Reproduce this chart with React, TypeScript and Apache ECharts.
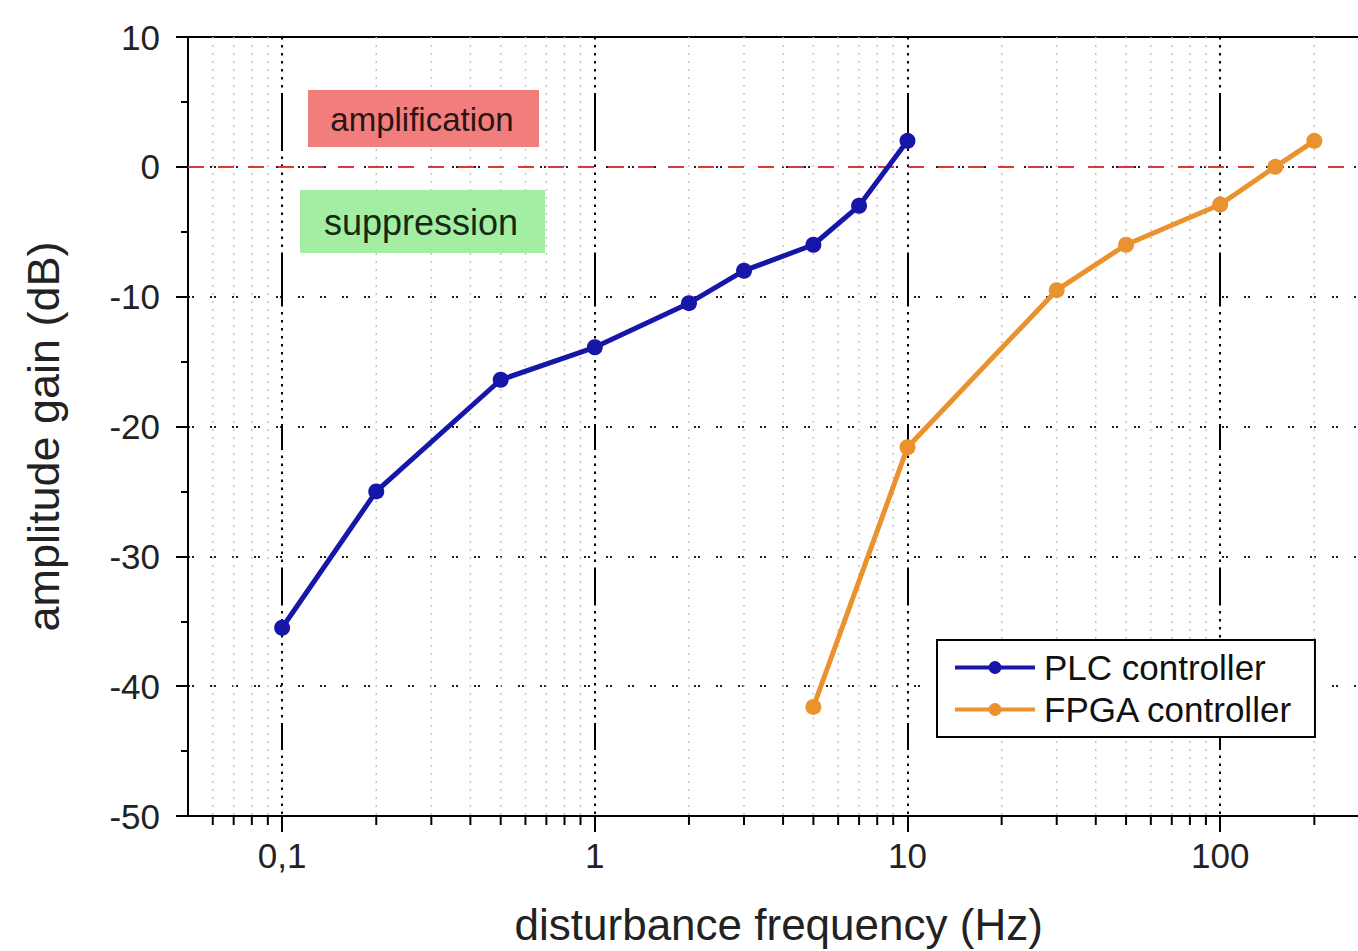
import React, { useEffect, useRef } from "react";
import * as echarts from "echarts";

// ---- data ----
const plcFreq = [0.1, 0.2, 0.5, 1, 2, 3, 5, 7, 10];
const plcGain = [-35.5, -25.0, -16.4, -13.9, -10.5, -8.0, -6.0, -3.0, 2.0];
const fpgaFreq = [5, 10, 30, 50, 100, 150, 200];
const fpgaGain = [-41.6, -21.6, -9.5, -6.0, -2.9, 0.0, 2.0];
const minorFreqs = [
  0.06, 0.07, 0.08, 0.09,
  0.2, 0.3, 0.4, 0.5, 0.6, 0.7, 0.8, 0.9,
  2, 3, 4, 5, 6, 7, 8, 9,
  20, 30, 40, 50, 60, 70, 80, 90,
  200, 300,
];
const seriesNames = ["PLC controller", "FPGA controller"];
const regionLabels = ["amplification", "suppression"];
const xMin = 0.05;
const xMax = 300;
const yMin = -50;
const yMax = 10;
const yStep = 10;
const refLevel = 0;

const FONT = "'Liberation Sans', Arial, sans-serif";

function buildDash(segs: [string, number][]): number[] {
  const out: number[] = [];
  for (const [kind, len] of segs) {
    if (kind === "dot") {
      const n = Math.max(1, Math.round(len / 8));
      for (let i = 0; i < n; i++) out.push(2.5, 5.5);
    } else {
      out.push(len, 5.5);
    }
  }
  return out;
}

const vMajorDash = buildDash([
  ["dot", 55], ["solid", 58], ["dot", 93], ["solid", 54], ["dot", 110],
  ["solid", 26], ["dot", 112], ["solid", 38], ["dot", 110], ["solid", 27], ["dot", 100],
]);

export default function App() {
  const ref = useRef<HTMLDivElement>(null);
  useEffect(() => {
    if (!ref.current) return;
    const chart = echarts.init(ref.current, null, { renderer: "svg" });
    const isDecade = (v: number) => Math.abs(Math.log10(v) - Math.round(Math.log10(v))) < 1e-6;
    chart.setOption({
      animation: false,
      backgroundColor: "#ffffff",
      textStyle: { fontFamily: FONT },
      grid: {
        left: 188,
        top: 37,
        bottom: 135,
        width: 1181.4,
        containLabel: false,
        outerBoundsMode: "none",
      },
      legend: {
        data: seriesNames,
        orient: "vertical",
        left: 937,
        top: 640,
        padding: [10, 22, 10, 16],
        itemGap: 7,
        itemWidth: 80,
        itemHeight: 16,
        borderColor: "#000",
        borderWidth: 2,
        backgroundColor: "#fff",
        lineStyle: { width: 4 },
        textStyle: { fontSize: 35, color: "#111", fontFamily: FONT, padding: [0, 0, 0, 4] },
      },
      xAxis: [
        {
          type: "log",
          logBase: 10,
          min: xMin,
          max: xMax,
          position: "bottom",
          name: "disturbance frequency (Hz)",
          nameLocation: "middle",
          nameGap: 86,
          nameTextStyle: { fontSize: 44, color: "#222", fontFamily: FONT },
          axisLine: { show: true, onZero: false, lineStyle: { color: "#000", width: 2 } },
          axisTick: { show: true, inside: false, length: 16, lineStyle: { color: "#000", width: 2 } },
          axisLabel: {
            show: true,
            margin: 22,
            fontSize: 35,
            color: "#222",
            fontFamily: FONT,
            showMinLabel: false,
            showMaxLabel: false,
            formatter: (v: number) => (isDecade(v) ? String(v).replace(".", ",") : ""),
          },
          splitLine: { show: true, lineStyle: { color: "#000", width: 2, type: vMajorDash } },
          minorTick: { show: false },
        },
        {
          type: "log",
          min: xMin,
          max: xMax,
          position: "top",
          axisLine: { show: true, onZero: false, lineStyle: { color: "#000", width: 2 } },
          axisTick: { show: false },
          axisLabel: { show: false },
          splitLine: { show: false },
        },
      ],
      yAxis: {
        type: "value",
        min: yMin,
        max: yMax,
        interval: yStep,
        name: "amplitude gain (dB)",
        nameLocation: "middle",
        nameGap: 122,
        nameRotate: 90,
        nameTextStyle: { fontSize: 45, color: "#222", fontFamily: FONT, padding: [0, 20, 0, 0] },
        axisLine: { show: true, onZero: false, lineStyle: { color: "#000", width: 2 } },
        axisTick: { show: true, inside: false, length: 12, lineStyle: { color: "#000", width: 2 } },
        minorTick: { show: true, splitNumber: 2, length: 7, lineStyle: { color: "#000", width: 2 } },
        axisLabel: { margin: 28, fontSize: 35, color: "#222", fontFamily: FONT },
        splitLine: { show: true, lineStyle: { color: "#222", width: 2, type: [2, 2, 2, 16] } },
      },
      graphic: [
        {
          type: "rect",
          left: 308,
          top: 90,
          shape: { width: 231, height: 57 },
          style: { fill: "#f27d7d" },
          z: 5,
        },
        {
          type: "text",
          x: 422,
          y: 119,
          style: {
            text: regionLabels[0],
            fontSize: 33,
            fontFamily: FONT,
            fill: "#2a1414",
            align: "center",
            verticalAlign: "middle",
          },
          z: 6,
        },
        {
          type: "rect",
          left: 300,
          top: 190,
          shape: { width: 245, height: 63 },
          style: { fill: "#a4eea4" },
          z: 5,
        },
        {
          type: "text",
          x: 421,
          y: 222,
          style: {
            text: regionLabels[1],
            fontSize: 36,
            fontFamily: FONT,
            fill: "#142a14",
            align: "center",
            verticalAlign: "middle",
          },
          z: 6,
        },
      ],
      series: [
        {
          type: "custom",
          name: "minorGrid",
          silent: true,
          clip: false,
          z: 1,
          xAxisIndex: 0,
          yAxisIndex: 0,
          data: minorFreqs.map((f) => [f, yMin]),
          renderItem: (_params: any, api: any) => {
            const x = api.value(0);
            const top = api.coord([x, yMax]);
            const bot = api.coord([x, yMin]);
            return {
              type: "group",
              children: [
                {
                  type: "line",
                  shape: { x1: top[0], y1: top[1], x2: bot[0], y2: bot[1] },
                  style: { stroke: "#c4c4c4", lineWidth: 1.5, lineDash: [2, 6] },
                },
                {
                  type: "line",
                  shape: { x1: bot[0], y1: bot[1], x2: bot[0], y2: bot[1] + 9 },
                  style: { stroke: "#000", lineWidth: 2 },
                },
              ],
            };
          },
        },
        {
          type: "line",
          name: seriesNames[0],
          data: plcFreq.map((f, i) => [f, plcGain[i]]),
          color: "#1616a8",
          lineStyle: { width: 5, color: "#1616a8" },
          symbol: "circle",
          symbolSize: 16,
          itemStyle: { color: "#1616a8" },
          z: 10,
          markLine: {
            silent: true,
            symbol: "none",
            label: { show: false },
            lineStyle: { color: "#d83a3a", width: 2, type: [16, 14] },
            data: [{ yAxis: refLevel }],
          },
        },
        {
          type: "line",
          name: seriesNames[1],
          data: fpgaFreq.map((f, i) => [f, fpgaGain[i]]),
          color: "#ea922e",
          lineStyle: { width: 5, color: "#ea922e" },
          symbol: "circle",
          symbolSize: 16,
          itemStyle: { color: "#ea922e" },
          z: 10,
        },
      ],
    });
    return () => chart.dispose();
  }, []);
  return (
    <div
      ref={ref}
      style={{ position: "fixed", left: 0, top: 0, width: 1358, height: 951, background: "#fff" }}
    />
  );
}
